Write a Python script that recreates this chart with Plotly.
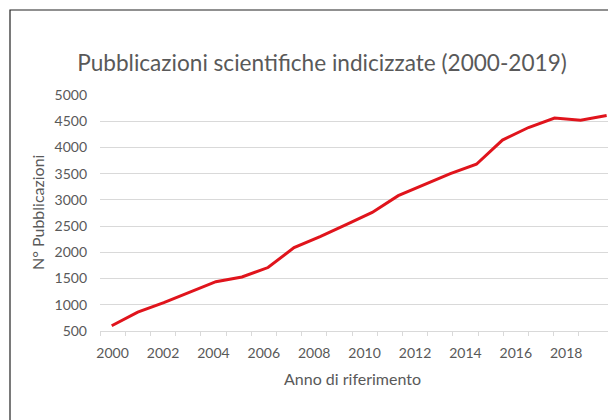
import plotly.graph_objects as go

# ---- data ----
years = [2000, 2001, 2002, 2003, 2004, 2005, 2006, 2007, 2008, 2009,
         2010, 2011, 2012, 2013, 2014, 2015, 2016, 2017, 2018, 2019]
publications = [600, 860, 1040, 1240, 1440, 1530, 1710, 2090, 2300, 2530,
                2760, 3080, 3290, 3500, 3680, 4140, 4380, 4560, 4520, 4610]
y_ticks = [500, 1000, 1500, 2000, 2500, 3000, 3500, 4000, 4500, 5000]
x_tick_years = [2000, 2002, 2004, 2006, 2008, 2010, 2012, 2014, 2016, 2018]
x_boundaries = [1999.5 + k for k in range(20)]

title_text = "Pubblicazioni scientifiche indicizzate (2000-2019)"
y_title = "N° Pubblicazioni"
x_title = "Anno di riferimento"

# page body has an 8px margin; design in screen coords and shift by OFF
OFF = 8
W, H = 608, 412
L = 100 - OFF
T = 95 - OFF
plot_right = W
plot_bottom = 331 - OFF
R = 0
B = H - plot_bottom
plot_w = plot_right - L
plot_h = plot_bottom - T

GRAY = "#595959"
GRID = "#d9d9d9"
FONT = "Lato"


def px_x(sx):
    return (sx - OFF - L) / plot_w


def px_y(sy):
    return (plot_bottom - (sy - OFF)) / plot_h


cat_px = 25.2
line_px = 26.05
cat_range = [1999.5, 1999.5 + plot_w / cat_px]

fig = go.Figure()
# empty traces so the label axis and the tick-mark axis are drawn
fig.add_trace(go.Scatter(x=[], y=[], xaxis="x", yaxis="y",
                         showlegend=False, hoverinfo="skip"))
fig.add_trace(go.Scatter(x=[], y=[], xaxis="x3", yaxis="y",
                         showlegend=False, hoverinfo="skip"))
fig.add_trace(go.Scatter(
    x=years, y=publications, mode="lines", xaxis="x2", yaxis="y",
    line=dict(color="#e0141c", width=3), showlegend=False,
    hoverinfo="x+y"))

fig.update_layout(
    width=W, height=H,
    margin=dict(l=L, r=R, t=T, b=B, autoexpand=False),
    paper_bgcolor="white", plot_bgcolor="white",
    font=dict(family=FONT, color=GRAY, size=14),
    title=dict(text=title_text, x=(322 - OFF) / W, xanchor="center",
               y=1 - (63 - OFF) / H, yanchor="middle",
               font=dict(family=FONT, size=22.6, color=GRAY)),
    xaxis=dict(
        range=cat_range,
        tickmode="array", tickvals=x_tick_years,
        ticktext=[str(v) for v in x_tick_years],
        ticks="", showgrid=False, zeroline=False,
        showline=True, linecolor=GRID, linewidth=1,
        ticklabelstandoff=9,
        tickfont=dict(family=FONT, size=14, color=GRAY),
        automargin=False, fixedrange=True),
    xaxis3=dict(
        overlaying="x", range=cat_range,
        tickmode="array", tickvals=x_boundaries,
        showticklabels=False, ticks="outside", ticklen=4,
        tickcolor=GRID, showgrid=False, zeroline=False, showline=False,
        automargin=False, fixedrange=True),
    xaxis2=dict(
        overlaying="x",
        range=[2000 - 11.7 / line_px, 2000 - 11.7 / line_px + plot_w / line_px],
        visible=False, fixedrange=True),
    yaxis=dict(
        range=[500, 5000],
        tickmode="array", tickvals=y_ticks,
        ticktext=[str(v) for v in y_ticks],
        ticks="", showgrid=True, gridcolor=GRID, gridwidth=1,
        zeroline=False, showline=False,
        ticklabelstandoff=12,
        tickfont=dict(family=FONT, size=14, color=GRAY),
        automargin=False, fixedrange=True),
    annotations=[
        dict(text=y_title, xref="paper", yref="paper",
             x=px_x(37.5), y=px_y(212.5),
             xanchor="center", yanchor="middle", textangle=-90,
             showarrow=False, font=dict(family=FONT, size=16, color=GRAY)),
        dict(text=x_title, xref="paper", yref="paper",
             x=px_x(352), y=px_y(378),
             xanchor="center", yanchor="middle",
             showarrow=False, font=dict(family=FONT, size=16, color=GRAY)),
    ],
    shapes=[
        dict(type="rect", xref="paper", yref="paper",
             x0=px_x(10), x1=px_x(640),
             y0=px_y(440), y1=px_y(10),
             line=dict(color="#222222", width=1.2), layer="below"),
    ],
)

fig.write_html("out.html")
